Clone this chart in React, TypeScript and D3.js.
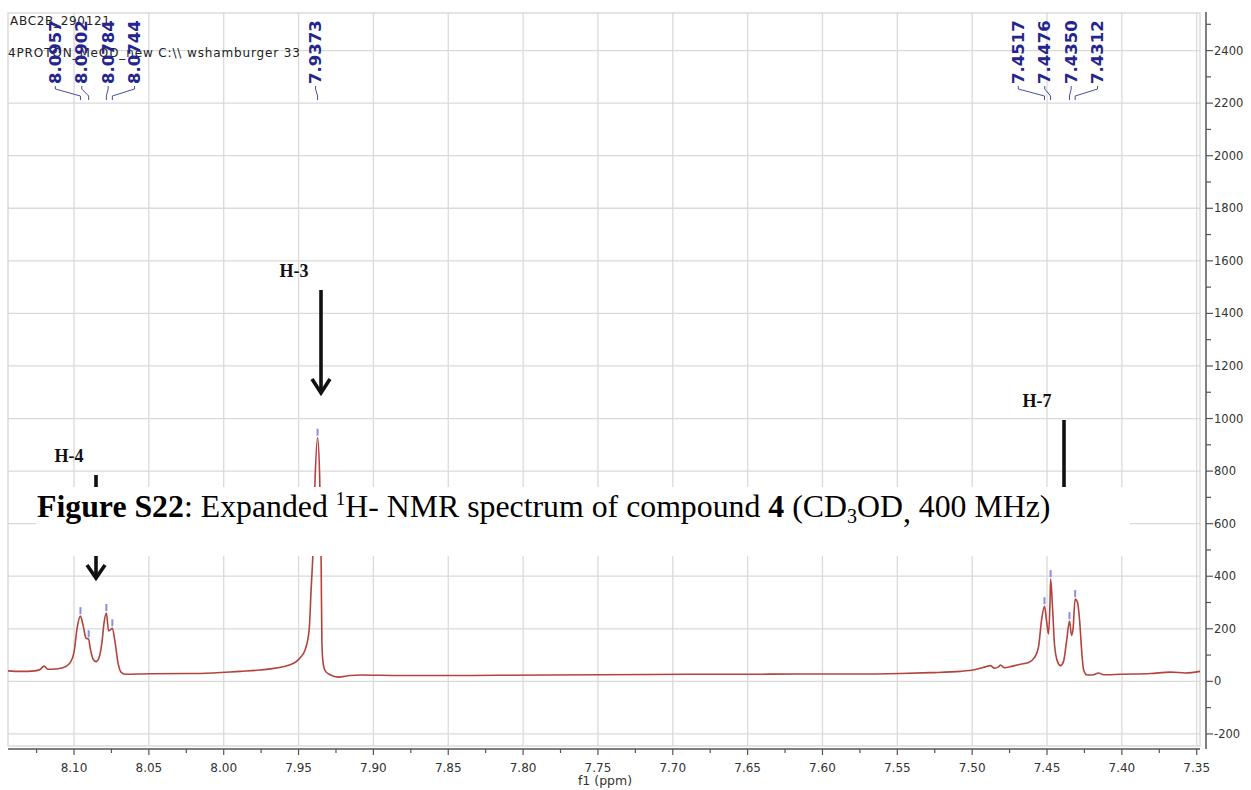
import React from "react";
import * as d3 from "d3";

const W = 1251;
const H = 790;

// 1H trace: chemical shift (ppm) and signal intensity
const shiftPpm = [
  8.1441, 8.1361, 8.1261, 8.1227, 8.12, 8.1174, 8.1107, 8.106, 8.1027, 8.1,
  8.098, 8.0957, 8.094, 8.092, 8.0902, 8.0893, 8.0873, 8.0853, 8.0833, 8.0813,
  8.08, 8.0784, 8.0769, 8.0759, 8.0744, 8.0726, 8.0706, 8.0686, 8.0659, 8.0492,
  8.0158, 7.9891, 7.9757, 7.9556, 7.9489, 7.9456, 7.9429, 7.9416, 7.9403, 7.9389,
  7.9373, 7.9359, 7.9349, 7.9344, 7.9336, 7.9322, 7.9289, 7.9235, 7.9155, 7.9088,
  7.8821, 7.8487, 7.8153, 7.7818, 7.7484, 7.715, 7.6816, 7.6482, 7.6147, 7.5813,
  7.5479, 7.5279, 7.5078, 7.4978, 7.4911, 7.4878, 7.4851, 7.4824, 7.4811, 7.4784,
  7.4731, 7.4677, 7.4624, 7.4584, 7.4557, 7.4537, 7.4517, 7.4503, 7.449, 7.448,
  7.4476, 7.4463, 7.445, 7.443, 7.441, 7.439, 7.437, 7.435, 7.4336, 7.4326,
  7.4312, 7.4296, 7.4282, 7.4269, 7.4256, 7.4236, 7.4196, 7.4156, 7.4122, 7.4009,
  7.3808, 7.3675, 7.3574, 7.3478,
];
const intensity = [
  40, 38, 40, 45, 58, 46, 48, 55, 70, 110,
  200, 248, 215, 165, 160, 130, 85, 75, 90, 150,
  220, 260, 192, 195, 202, 150, 70, 35, 27, 29,
  30, 38, 43, 63, 90, 120, 197, 350, 500, 780,
  927, 780, 450, 150, 70, 40, 25, 16, 22, 24,
  22, 22, 23, 24, 25, 26, 27, 27, 28, 28,
  30, 33, 38, 45, 55, 60, 50, 55, 62, 52,
  58, 65, 72, 90, 130, 230, 286, 230, 180, 300,
  389, 280, 140, 75, 60, 75, 150, 229, 175, 200,
  313, 300, 230, 120, 45, 25, 24, 32, 25, 27,
  30, 35, 32, 38,
];

// picked peaks
const peakShifts = [8.0957, 8.0902, 8.0784, 8.0744, 7.9373, 7.4517, 7.4476, 7.435, 7.4312];
const peakHeights = [248, 160, 260, 202, 927, 286, 389, 229, 313];

// axis ticks
const xTicks = [8.1, 8.05, 8.0, 7.95, 7.9, 7.85, 7.8, 7.75, 7.7, 7.65, 7.6, 7.55, 7.5, 7.45, 7.4, 7.35];
const xTickLabels = ["8.10", "8.05", "8.00", "7.95", "7.90", "7.85", "7.80", "7.75", "7.70", "7.65", "7.60", "7.55", "7.50", "7.45", "7.40", "7.35"];
const yTicks = [-200, 0, 200, 400, 600, 800, 1000, 1200, 1400, 1600, 1800, 2000, 2200, 2400];

// proton assignments
const assignLabels = ["H-3", "H-4", "H-7"];

const SANS = "'DejaVu Sans', Verdana, sans-serif";
const SERIF = "'Liberation Serif', 'Times New Roman', serif";

export default function App() {
  const left = 8, right = 1200, top = 13, bottom = 746;
  const axisY = 749;
  const x = d3.scaleLinear().domain([8.1441, 7.3478]).range([left, right]);
  const y = d3.scaleLinear().domain([-246, 2543]).range([bottom, top]);

  const pts = shiftPpm.map((p, i) => [p, intensity[i]] as [number, number]);
  const line = d3
    .line<[number, number]>()
    .x((d) => x(d[0]))
    .y((d) => y(d[1]))
    .curve(d3.curveMonotoneX);

  // minor ticks
  const xMinor = d3.range(0, 33).map((i) => 8.125 - i * 0.025).filter((v) => x(v) >= left && x(v) <= right);
  const yMinor = d3.range(-200, 2600, 100).filter((v) => y(v) >= top - 2);

  // spread peak labels: cluster neighbours and space them evenly
  const spacing = 26.4;
  const px = peakShifts.map((p) => x(p));
  const groups: number[][] = [];
  px.forEach((v, i) => {
    const g = groups[groups.length - 1];
    if (g && v - px[g[g.length - 1]] < spacing * 1.2) g.push(i);
    else groups.push([i]);
  });
  const labelX: number[] = [];
  groups.forEach((g) => {
    const mean = d3.mean(g, (i) => px[i]) as number;
    const c = mean - 2;
    g.forEach((i, k) => {
      labelX[i] = c + (k - (g.length - 1) / 2) * spacing;
    });
  });

  const axisColor = "#555";
  const gridColor = "#dadada";

  return (
    <div style={{ position: "fixed", left: 0, top: 0 }}>
      <svg width={W} height={H} style={{ display: "block", background: "#fff" }}>
        <rect x={0} y={0} width={W} height={H} fill="#fff" />

        {/* grid */}
        <g stroke={gridColor} strokeWidth={1.3}>
          {xTicks.map((t) => (
            <line key={"gx" + t} x1={x(t)} x2={x(t)} y1={top} y2={bottom} />
          ))}
          {yTicks.map((t) => (
            <line key={"gy" + t} x1={left} x2={right} y1={y(t)} y2={y(t)} />
          ))}
        </g>
        <rect x={left} y={top} width={right - left} height={bottom - top} fill="none" stroke="#d2d2d2" strokeWidth={1.2} />

        {/* spectrum */}
        <path d={line(pts) || ""} fill="none" stroke="#b3433f" strokeWidth={1.6} strokeLinejoin="round" />

        {/* peak markers */}
        {peakShifts.map((p, i) => (
          <rect key={"pm" + i} x={x(p) - 1} y={y(peakHeights[i]) - 9} width={2} height={7} fill="#8d8de0" />
        ))}

        {/* header text */}
        <text x={10} y={25} fontFamily={SANS} fontSize={12} fill="#222" textLength={100} lengthAdjust="spacing">
          ABC2B_290121
        </text>
        <text x={8} y={57} fontFamily={SANS} fontSize={12} fill="#222" textLength={292} lengthAdjust="spacing">
          4PROTON_MeOD_new C:\\ wshamburger 33
        </text>

        {/* peak leaders and labels */}
        <g stroke="#4b4b9c" strokeWidth={1} fill="none">
          {peakShifts.map((p, i) => (
            <path
              key={"ld" + i}
              d={`M${labelX[i]},86 L${labelX[i]},89 L${px[i]},96 L${px[i]},100`}
            />
          ))}
        </g>
        {peakShifts.map((p, i) => (
          <text
            key={"pl" + i}
            transform={`translate(${labelX[i]},84) rotate(-90)`}
            fontFamily={SANS}
            fontWeight="bold"
            fontSize={16.5}
            fill="#25258f"
            dominantBaseline="central"
            textAnchor="start"
          >
            {p.toFixed(4)}
          </text>
        ))}

        {/* assignment arrows */}
        <g fontFamily={SERIF} fontWeight="bold" fontSize={18} fill="#111" textAnchor="middle">
          <text x={294} y={277}>{assignLabels[0]}</text>
          <text x={69} y={462}>{assignLabels[1]}</text>
          <text x={1037} y={407}>{assignLabels[2]}</text>
        </g>
        <g stroke="#111" strokeWidth={3.6} fill="none" strokeLinecap="butt">
          <line x1={321} x2={321} y1={290} y2={393} />
          <polyline points="312,379 321,393 330,379" />
          <line x1={96} x2={96} y1={475} y2={578} />
          <polyline points="87,565 96,578 105,565" />
          <line x1={1064} x2={1064} y1={420} y2={540} />
        </g>

        {/* y axis */}
        <line x1={1206} x2={1206} y1={12} y2={axisY} stroke={axisColor} strokeWidth={1.5} />
        {yMinor.map((t) => (
          <line key={"ym" + t} x1={1206} x2={t % 200 === 0 ? 1213 : 1211} y1={y(t)} y2={y(t)} stroke={axisColor} strokeWidth={1.2} />
        ))}
        {yTicks.map((t) => (
          <text key={"yl" + t} x={1214} y={y(t)} dominantBaseline="central" fontFamily={SANS} fontSize={11.5} fill="#333">
            {t}
          </text>
        ))}

        {/* x axis */}
        <line x1={left} x2={right} y1={axisY} y2={axisY} stroke={axisColor} strokeWidth={1.5} />
        {xMinor.map((t) => {
          const major = Math.abs(Math.round(t * 20) - t * 20) < 1e-6;
          return (
            <line key={"xm" + t} x1={x(t)} x2={x(t)} y1={axisY} y2={major ? axisY + 6 : axisY + 4} stroke={axisColor} strokeWidth={1.2} />
          );
        })}
        {xTicks.map((t, i) => (
          <text key={"xl" + t} x={x(t)} y={772} textAnchor="middle" fontFamily={SANS} fontSize={12} fill="#333">
            {xTickLabels[i]}
          </text>
        ))}
        <text x={605} y={785} textAnchor="middle" fontFamily={SANS} fontSize={12.5} fill="#333">
          f1 (ppm)
        </text>

        {/* caption band */}
        <rect x={36} y={487} width={1094} height={69} fill="#fff" />
        <text x={37} y={517} fontFamily={SERIF} fontSize={31.8} fill="#000">
          <tspan fontWeight="bold">Figure S22</tspan>
          <tspan>: Expanded </tspan>
          <tspan fontSize={19} dy={-12}>1</tspan>
          <tspan dy={12}>H- NMR spectrum of compound </tspan>
          <tspan fontWeight="bold">4</tspan>
          <tspan> (CD</tspan>
          <tspan fontSize={20} dy={6}>3</tspan>
          <tspan dy={-6}>OD</tspan>
          <tspan dy={5}>,</tspan>
          <tspan dy={-5}> 400 MHz)</tspan>
        </text>
      </svg>
    </div>
  );
}
